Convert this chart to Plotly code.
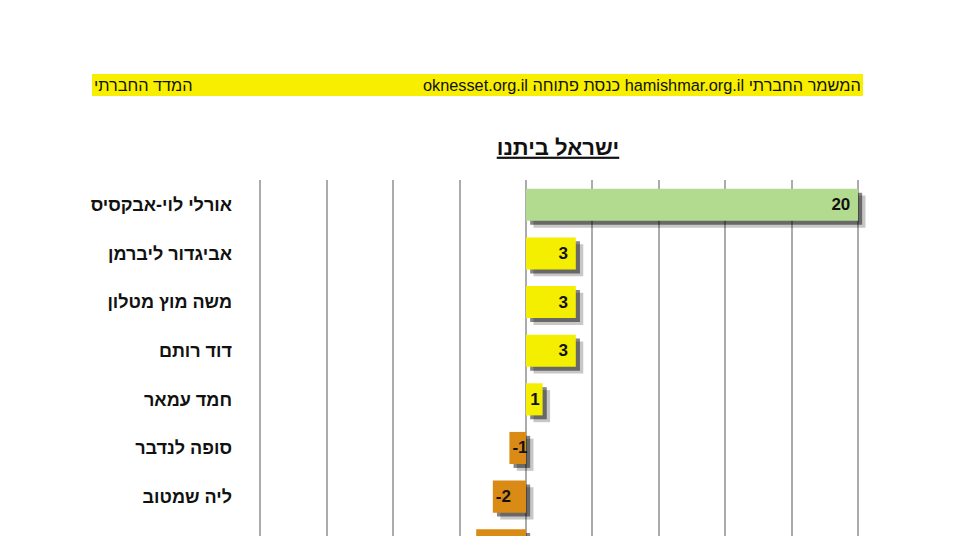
import plotly.graph_objects as go

names = ["אורלי לוי-אבקסיס", "אביגדור ליברמן", "משה מוץ מטלון", "דוד רותם",
         "חמד עמאר", "סופה לנדבר", "ליה שמטוב", "רוברט אילטוב"]
values = [20, 3, 3, 3, 1, -1, -2, -3]
colors = ["#B3DB8F", "#F4EE00", "#F4EE00", "#F4EE00", "#F4EE00",
          "#D98B16", "#D98B16", "#D98B16"]
labels = [str(v) + ("\u00a0" if v > 1 else "") for v in values]
x_ticks = [-16, -12, -8, -4, 0, 4, 8, 12, 16, 20]

title_text = "ישראל ביתנו"
header_right = "oknesset.org.il כנסת פתוחה hamishmar.org.il המשמר החברתי"
header_left = "המדד החברתי"

FONT = "Liberation Sans, Arial, Helvetica, sans-serif"

W, H = 947, 528          # page body has an 8px margin
L, R, T, B = 247, 89, 172, 0
PW, PH = W - L - R, H - T - B


def px(xf):
    return (xf - L) / PW


def py(yf):
    return (H - B - yf) / PH


fig = go.Figure()

# soft drop shadows (two layers)
fig.add_trace(go.Bar(
    y=names, x=values, base=[0.45] * len(values), orientation="h",
    width=0.66, offset=-0.33 + 0.14,
    marker=dict(color="rgba(0,0,0,0.22)", line=dict(width=0)),
    hoverinfo="skip", showlegend=False, cliponaxis=False))
fig.add_trace(go.Bar(
    y=names, x=values, base=[0.25] * len(values), orientation="h",
    width=0.66, offset=-0.33 + 0.08,
    marker=dict(color="rgba(0,0,0,0.48)", line=dict(width=0)),
    hoverinfo="skip", showlegend=False, cliponaxis=False))

# main bars
fig.add_trace(go.Bar(
    y=names, x=values, orientation="h",
    width=0.66, offset=-0.33,
    marker=dict(color=colors, line=dict(width=0)),
    text=labels, textposition="inside", insidetextanchor="end",
    constraintext="none", textangle=0,
    textfont=dict(family=FONT, size=17, color="#111111", weight="bold"),
    hoverinfo="skip", showlegend=False, cliponaxis=False))

fig.update_layout(
    width=W, height=H,
    margin=dict(l=L, r=R, t=T, b=B, autoexpand=False),
    paper_bgcolor="white", plot_bgcolor="white",
    barmode="overlay",
    title=dict(text="<b>" + title_text + "</b>", x=px(550), xref="paper",
               y=1 - 139 / H, yref="container", yanchor="middle", xanchor="center",
               font=dict(family=FONT, size=22, color="#111111", lineposition="under")),
    font=dict(family=FONT),
    xaxis=dict(range=[-16.325, 20.48], tickvals=x_ticks, showticklabels=False,
               showgrid=True, gridcolor="#ABABAB", gridwidth=1.5,
               zeroline=False, showline=False, fixedrange=True),
    yaxis=dict(range=[6.81, -0.51], type="category", showgrid=False,
               zeroline=False, showline=False, ticks="",
               ticklabelstandoff=22,
               tickfont=dict(family=FONT, size=18, color="#111111", weight="bold"),
               fixedrange=True),
    shapes=[dict(type="rect", xref="paper", yref="paper",
                 x0=px(84), x1=px(855), y0=py(88), y1=py(66),
                 fillcolor="#F7EE00", line=dict(width=0), layer="below")],
    annotations=[
        dict(text=header_right, xref="paper", yref="paper",
             x=px(855), y=py(77), xanchor="right", yanchor="middle",
             showarrow=False, font=dict(family=FONT, size=16.3, color="#111111")),
        dict(text=header_left, xref="paper", yref="paper",
             x=px(84), y=py(77), xanchor="left", yanchor="middle",
             showarrow=False, font=dict(family=FONT, size=16.3, color="#111111")),
    ],
)

fig.write_html("out.html")
